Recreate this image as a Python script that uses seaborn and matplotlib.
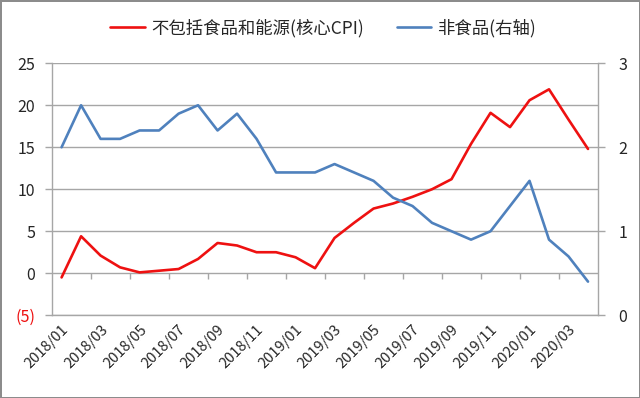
import matplotlib
matplotlib.use("Agg")
from matplotlib import pyplot as plt
import seaborn as sns
import pandas as pd

# monthly categories 2018/01 .. 2020/04
months = ["2018/01", "2018/02", "2018/03", "2018/04", "2018/05", "2018/06", "2018/07",
          "2018/08", "2018/09", "2018/10", "2018/11", "2018/12", "2019/01", "2019/02",
          "2019/03", "2019/04", "2019/05", "2019/06", "2019/07", "2019/08", "2019/09",
          "2019/10", "2019/11", "2019/12", "2020/01", "2020/02", "2020/03", "2020/04"]
core_cpi = [-0.5, 4.4, 2.1, 0.7, 0.1, 0.3, 0.5, 1.7, 3.6, 3.3, 2.5, 2.5, 1.9, 0.6,
            4.2, 6.0, 7.7, 8.3, 9.1, 10.0, 11.2, 15.4, 19.1, 17.4, 20.6, 21.9, 18.3, 14.8]
non_food = [2.0, 2.5, 2.1, 2.1, 2.2, 2.2, 2.4, 2.5, 2.2, 2.4, 2.1, 1.7, 1.7, 1.7,
            1.8, 1.7, 1.6, 1.4, 1.3, 1.1, 1.0, 0.9, 1.0, 1.3, 1.6, 0.9, 0.7, 0.4]
left_ticks = [-5, 0, 5, 10, 15, 20, 25]
left_labels = ["(5)", "0", "5", "10", "15", "20", "25"]
right_ticks = [0, 1, 2, 3]
name_red = "不包括食品和能源(核心CPI)"
name_blue = "非食品(右轴)"

df = pd.DataFrame({"idx": range(len(months)), "core": core_cpi, "nonfood": non_food})

sns.set_style("white")
plt.rcParams['font.family'] = ['Noto Sans CJK SC', 'DejaVu Sans']

red = "#ee1111"
blue = "#4f81bd"
grid_c = "#a6a6a6"
txt_c = "#262626"

fig = plt.figure(figsize=(6.4, 3.98), dpi=100, edgecolor="#8c8c8c", linewidth=2)
ax = fig.add_subplot(111)
plt.subplots_adjust(left=0.081, right=0.934, top=0.841, bottom=0.208)

sns.lineplot(data=df, x="idx", y="core", ax=ax, color=red, linewidth=1.9, label=name_red, legend=False)
ax2 = ax.twinx()
sns.lineplot(data=df, x="idx", y="nonfood", ax=ax2, color=blue, linewidth=1.9, label=name_blue, legend=False)

ax.set_xlim(-0.5, len(months) - 0.5)
ax.set_ylim(-5, 25)
ax2.set_ylim(0, 3)

ax.set_yticks(left_ticks, left_labels)
ax2.set_yticks(right_ticks, [str(t) for t in right_ticks])

ax.yaxis.grid(True, color=grid_c, linewidth=1)
ax.set_axisbelow(True)

ax.set_xticks(range(0, len(months), 2), months[::2], rotation=45, ha="right",
              rotation_mode="anchor")
ax.tick_params(axis="x", length=0, pad=5, labelsize=10.5, labelcolor=txt_c)
ax.tick_params(axis="y", length=5, color=grid_c, width=1, direction="out", left=True,
               labelsize=11.5, labelcolor=txt_c, pad=7)
ax2.tick_params(axis="y", length=5, color=grid_c, width=1, direction="out", right=True,
                labelsize=11.5, labelcolor=txt_c, pad=10)
ax.get_yticklabels()[0].set_color(red)

for a in (ax, ax2):
    a.set_xlabel("")
    a.set_ylabel("")
    a.spines["top"].set_visible(False)
    for s in ("left", "right", "bottom"):
        a.spines[s].set_color(grid_c)
        a.spines[s].set_linewidth(1)
ax.spines["right"].set_visible(False)
ax2.spines["left"].set_visible(False)
ax2.spines["bottom"].set_visible(False)

# category tick marks hanging below the zero line
sec = ax.secondary_xaxis(5 / 30)
sec.set_xticks([i + 1.5 for i in range(0, len(months) - 2, 2)])
sec.tick_params(axis="x", length=4, color=grid_c, width=1, direction="out", labelbottom=False)
sec.spines["bottom"].set_visible(False)

h1, l1 = ax.get_legend_handles_labels()
h2, l2 = ax2.get_legend_handles_labels()
fig.legend(h1 + h2, l1 + l2, loc="center", bbox_to_anchor=(0.505, 0.93), ncol=2,
           frameon=False, fontsize=12.5, handlelength=2.0, handletextpad=0.35,
           columnspacing=1.9, labelcolor=txt_c)

plt.savefig("out.png", dpi=100)
